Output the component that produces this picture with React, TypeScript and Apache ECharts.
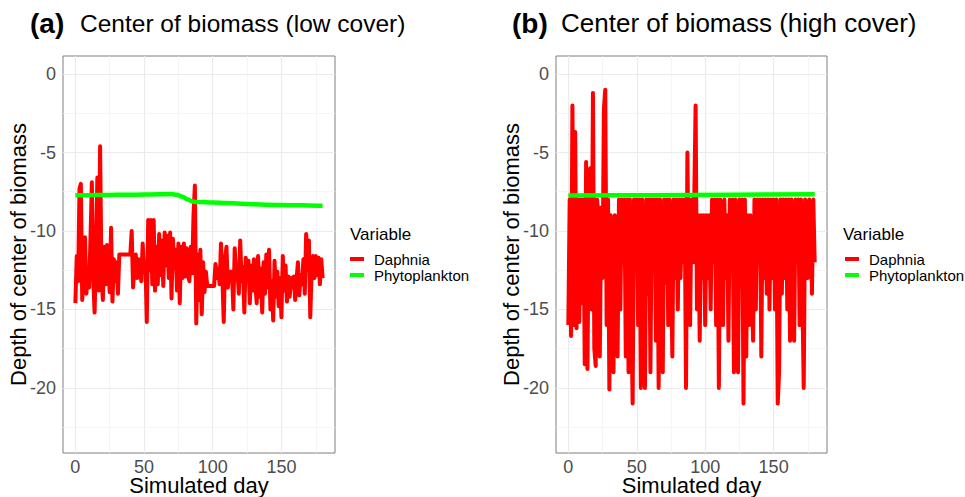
import React, { useEffect, useRef } from "react";
import * as echarts from "echarts";

// ---------- DATA ----------
const xTicks = [0, 50, 100, 150];
const yTicks = [-20, -15, -10, -5, 0];
const xMinorGrid = [25, 75, 125, 175];
const yMinorGrid = [-2.5, -7.5, -12.5, -17.5, -22.5];
const seriesNames = ["Daphnia", "Phytoplankton"];

// Panel (a) low cover — Daphnia daily depth, days 0..180
const daphniaLow = [
  -14.6, -11.6, -13.2, -7.3, -7.0, -14.4, -12.5, -10.4, -14.0, -12.8,
  -13.6, -10.5, -6.9, -13.0, -15.2, -11.5, -6.6, -13.8, -4.6, -12.8,
  -14.4, -11.0, -13.4, -10.9, -12.2, -13.9, -9.8, -14.5, -11.8, -13.2,
  -12.0, -14.0, -11.5, -11.5, -11.5, -11.5, -11.5, -11.5, -11.5, -11.5,
  -11.5, -10.0, -13.6, -12.2, -11.5, -13.0, -11.8, -12.4, -13.2, -10.8,
  -12.6, -12.0, -15.8, -9.3, -12.5, -9.3, -13.4, -9.3, -13.8, -11.0,
  -13.4, -10.2, -12.8, -10.6, -13.5, -10.1, -12.2, -10.3, -13.0, -10.1,
  -14.3, -10.5, -12.4, -11.2, -13.8, -10.8, -14.6, -11.0, -13.0, -10.8,
  -12.9, -11.1, -12.8, -13.2, -11.0, -12.7, -9.0, -7.1, -15.9, -11.5,
  -14.4, -11.2, -15.3, -12.0, -13.9, -12.6, -13.5, -13.5, -13.5, -13.5,
  -13.5, -13.5, -12.1, -13.0, -12.4, -13.4, -10.8, -12.9, -15.8, -11.8,
  -11.0, -13.6, -12.6, -12.6, -12.6, -15.0, -11.1, -12.6, -12.6, -14.0,
  -10.6, -13.2, -12.3, -15.2, -11.7, -13.0, -11.9, -14.6, -12.2, -13.8,
  -11.8, -13.4, -14.6, -11.6, -14.2, -12.4, -15.2, -12.0, -14.0, -11.5,
  -13.6, -11.2, -15.0, -13.2, -15.7, -11.9, -14.2, -12.6, -14.8, -13.0,
  -15.5, -11.6, -13.8, -12.2, -14.5, -12.9, -14.2, -13.0, -13.6, -12.9,
  -14.4, -13.1, -12.0, -14.1, -12.8, -13.4, -11.8, -14.0, -10.2, -12.5,
  -10.6, -15.5, -12.5, -11.6, -13.0, -11.6, -12.8, -11.7, -13.4, -11.8,
  -13.0,
];

// Panel (a) low cover — Phytoplankton (day, depth)
const phytoLowDays = [0, 10, 20, 30, 40, 50, 60, 70, 74, 78, 82, 85, 88, 95, 100, 110, 120, 130, 140, 150, 160, 170, 180];
const phytoLow = [-7.73, -7.72, -7.71, -7.7, -7.69, -7.68, -7.66, -7.65, -7.7, -7.82, -8.0, -8.12, -8.15, -8.17, -8.19, -8.22, -8.26, -8.3, -8.33, -8.35, -8.36, -8.37, -8.39];

// Panel (b) high cover — Daphnia daily depth, days 0..180
const daphniaHigh = [
  -16, -8, -16.7, -2, -16, -3.7, -16.2, -8, -15.8, -8,
  -14.6, -8, -18.5, -5.6, -18.8, -8, -6, -15, -1.2, -17.5,
  -18.6, -8, -9, -18, -8.5, -13, -2.2, -1, -16, -8,
  -20.1, -9, -16, -19, -9, -11, -18, -8, -15, -8,
  -12, -8, -18, -8, -19, -8, -15, -21, -8, -12,
  -8, -16, -8, -20, -8, -15, -20, -8, -14, -8,
  -19, -8, -12, -8, -17, -8, -20, -8, -15, -19,
  -8, -13.3, -8, -16, -8, -12, -18, -8, -13, -8,
  -15, -8, -13, -8, -12, -8, -20, -5, -13, -16,
  -8, -12, -8, -2, -15, -9, -17, -9, -13, -9,
  -16, -9, -13, -9, -15, -8, -12, -8, -16, -8,
  -20, -8, -9, -16, -8, -13, -9, -17, -8, -12,
  -8, -19, -8, -14.5, -19, -8, -13, -8, -21, -8,
  -18, -9, -16, -9, -13, -17, -8, -15, -8, -12,
  -8, -18, -8, -13, -8, -14, -8, -15, -8, -13,
  -8, -15, -8, -21, -19, -8, -14, -8, -13, -8,
  -15, -8, -17, -8, -13, -17, -8, -12, -8, -16,
  -8, -14, -20, -8, -9, -13, -8, -9, -14, -8,
  -12,
];

// Panel (b) high cover — Phytoplankton (day, depth)
const phytoHighDays = [0, 60, 120, 180];
const phytoHigh = [-7.74, -7.72, -7.69, -7.66];

// ---------- CHART ----------
const FONT = '"Liberation Sans", Arial, Helvetica, sans-serif';

function dailyPairs(values: number[]) {
  return values.map((v, i) => [i, v]);
}
function pairs(days: number[], values: number[]) {
  return days.map((d, i) => [d, values[i]]);
}

function gridLines() {
  const major = { color: "#ebebeb", width: 1.1, type: "solid" };
  const minor = { color: "#f2f2f2", width: 0.8, type: "solid" };
  return [
    ...xTicks.map((v) => ({ xAxis: v, lineStyle: major })),
    ...xMinorGrid.map((v) => ({ xAxis: v, lineStyle: minor })),
    ...yTicks.map((v) => ({ yAxis: v, lineStyle: major })),
    ...yMinorGrid.map((v) => ({ yAxis: v, lineStyle: minor })),
  ];
}

function xAxis(i: number) {
  return {
    type: "value",
    gridIndex: i,
    min: -9,
    max: 189,
    splitLine: { show: false },
    axisLine: { show: false },
    axisTick: { show: true, customValues: xTicks, length: 4, lineStyle: { color: "#444" } },
    axisLabel: { customValues: xTicks, margin: 6, fontSize: 18, lineHeight: 16, color: "#4d4d4d", fontFamily: FONT },
    name: "Simulated day",
    nameLocation: "middle",
    nameGap: 21,
    nameMoveOverlap: false,
    nameTextStyle: { fontSize: 22, lineHeight: 22, color: "#000", fontFamily: FONT, verticalAlign: "top" },
  };
}

function yAxis(i: number) {
  return {
    type: "value",
    gridIndex: i,
    min: -24.15,
    max: 1.15,
    splitLine: { show: false },
    axisLine: { show: false },
    axisTick: { show: true, customValues: yTicks, length: 4, lineStyle: { color: "#444" } },
    axisLabel: { customValues: yTicks, margin: 7, fontSize: 18, color: "#4d4d4d", fontFamily: FONT },
    name: "Depth of center of biomass",
    nameLocation: "middle",
    nameGap: 34,
    nameMoveOverlap: false,
    nameTextStyle: { fontSize: 22, color: "#000", fontFamily: FONT },
  };
}

function daphniaSeries(i: number, values: number[]) {
  return {
    name: seriesNames[0],
    type: "line",
    xAxisIndex: i,
    yAxisIndex: i,
    data: dailyPairs(values),
    color: "#ff0000",
    showSymbol: false,
    symbol: "none",
    z: 3,
    lineStyle: { color: "#ff0000", width: 4, join: "round", cap: "butt" },
    markLine: {
      silent: true,
      z: 1,
      symbol: ["none", "none"],
      label: { show: false },
      emphasis: { disabled: true },
      data: gridLines(),
    },
  };
}

function phytoSeries(i: number, days: number[], values: number[]) {
  return {
    name: seriesNames[1],
    type: "line",
    xAxisIndex: i,
    yAxisIndex: i,
    data: pairs(days, values),
    color: "#00ff00",
    showSymbol: false,
    symbol: "none",
    smooth: 0.35,
    smoothMonotone: "x",
    z: 4,
    lineStyle: { color: "#00ff00", width: 4.5, join: "round", cap: "butt" },
  };
}

function legend(left: number) {
  return {
    left,
    top: 251,
    orient: "vertical",
    padding: 0,
    itemGap: 0,
    itemWidth: 14,
    itemHeight: 4,
    icon: "rect",
    selectedMode: false,
    data: seriesNames,
    textStyle: { fontSize: 15, color: "#000", fontFamily: FONT, lineHeight: 16, padding: [0, 0, 0, 5] },
  };
}

export default function App() {
  const ref = useRef<HTMLDivElement>(null);
  useEffect(() => {
    if (!ref.current) return;
    const chart = echarts.init(ref.current, undefined, { renderer: "svg" });
    const titleText = (text: string, left: number, top: number, size: number, bold = false) => ({
      text,
      left,
      top,
      padding: 0,
      textStyle: { fontSize: size, fontWeight: bold ? "bold" : "normal", color: "#000", fontFamily: FONT },
    });
    const gridBase = {
      show: true,
      borderColor: "#7f7f7f",
      borderWidth: 1,
      backgroundColor: "transparent",
      containLabel: false,
      outerBoundsMode: "none",
    };
    chart.setOption({
      animation: false,
      backgroundColor: "#ffffff",
      title: [
        titleText("(a)", 30, 9, 28, true),
        titleText("Center of biomass (low cover)", 80, 11, 24.5),
        titleText("(b)", 512, 9, 28, true),
        titleText("Center of biomass (high cover)", 561, 10, 26),
        titleText("Variable", 350, 226, 17),
        titleText("Variable", 843, 226, 17),
      ],
      legend: [legend(350), legend(845)],
      grid: [
        { ...gridBase, left: 63, top: 56, width: 272, height: 397 },
        { ...gridBase, left: 556, top: 56, width: 271, height: 397 },
      ],
      xAxis: [xAxis(0), xAxis(1)],
      yAxis: [yAxis(0), yAxis(1)],
      series: [
        daphniaSeries(0, daphniaLow),
        phytoSeries(0, phytoLowDays, phytoLow),
        daphniaSeries(1, daphniaHigh),
        phytoSeries(1, phytoHighDays, phytoHigh),
      ],
    });
    return () => chart.dispose();
  }, []);
  return (
    <div
      ref={ref}
      style={{ position: "absolute", left: 0, top: 0, width: 965, height: 497, background: "#fff" }}
    />
  );
}
